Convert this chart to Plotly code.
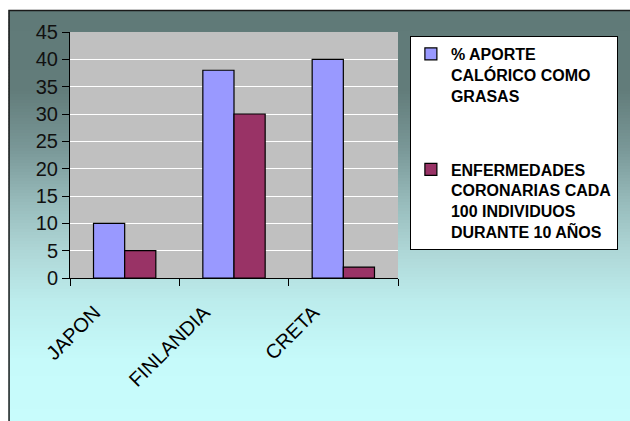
import plotly.graph_objects as go
import numpy as np

categories = ["JAPON", "FINLANDIA", "CRETA"]
grasas = [10, 38, 40]
coronarias = [5, 30, 2]
series_names = ["% APORTE<br>CALÓRICO COMO<br>GRASAS",
                "ENFERMEDADES<br>CORONARIAS CADA<br>100 INDIVIDUOS<br>DURANTE 10 AÑOS"]
y_ticks = [0, 5, 10, 15, 20, 25, 30, 35, 40, 45]

W, H = 630, 421
L, R, T, B = 70, 401, 32, 278
PW, PH = R - L, B - T

def xp(px):
    return (px - L) / PW

def yp(py):
    return (B - py) / PH

# background gradient stops (pixel y, rgb)
stops = [(10, (96, 122, 120)), (90, (98, 124, 122)), (150, (122, 152, 152)),
         (200, (150, 186, 186)), (250, (174, 214, 214)), (300, (188, 236, 236)),
         (360, (198, 250, 250)), (425, (200, 252, 252))]
sy = [s[0] for s in stops]
shapes = []
step = 3
for y0 in range(10, 425, step):
    ym = y0 + step / 2
    c = [int(round(np.interp(ym, sy, [s[1][k] for s in stops]))) for k in range(3)]
    shapes.append(dict(type="rect", xref="paper", yref="paper",
                       x0=xp(8), x1=xp(640), y0=yp(y0 + step + 0.5), y1=yp(y0),
                       fillcolor=f"rgb({c[0]},{c[1]},{c[2]})", line=dict(width=0),
                       layer="below"))
# frame border
shapes.append(dict(type="rect", xref="paper", yref="paper",
                   x0=xp(8.5), x1=xp(640), y0=yp(440), y1=yp(10.5),
                   fillcolor="rgba(0,0,0,0)", line=dict(color="#1a1a1a", width=1.5),
                   layer="below"))
# plot area
shapes.append(dict(type="rect", xref="paper", yref="paper",
                   x0=0, x1=1, y0=0, y1=1,
                   fillcolor="#c0c0c0", line=dict(width=0), layer="below"))

fig = go.Figure()
fig.add_trace(go.Bar(x=categories, y=grasas, name=series_names[0],
                     marker=dict(color="#9999ff", line=dict(color="#000000", width=1.2)),
                     legendgroup="a"))
fig.add_trace(go.Bar(x=categories, y=coronarias, name=series_names[1],
                     marker=dict(color="#993366", line=dict(color="#000000", width=1.2)),
                     legendgroup="b"))

fig.update_layout(
    width=W, height=H,
    margin=dict(l=L, r=W - R, t=T, b=H - B, pad=0),
    paper_bgcolor="white",
    plot_bgcolor="rgba(0,0,0,0)",
    barmode="group", bargap=0.43, bargroupgap=0,
    shapes=shapes,
    font=dict(family="Liberation Sans, Arial, sans-serif", color="#000000"),
    showlegend=True,
    legend=dict(x=xp(413), y=yp(36), xanchor="left", yanchor="top",
                bgcolor="white", bordercolor="#000000", borderwidth=1,
                font=dict(family="Liberation Sans, Arial, sans-serif",
                          size=16, color="#000000", weight="bold"),
                valign="top", tracegroupgap=50, traceorder="grouped"),
    xaxis=dict(range=[-0.5, 2.5], showline=True, linecolor="#000000", linewidth=1,
               ticks="outside", tickson="boundaries", ticklen=7, tickcolor="#000000",
               tickangle=-45, tickfont=dict(size=20, color="#000000"),
               ticklabelstandoff=14, ticklabelshift=-30,
               showgrid=False, zeroline=False, fixedrange=True),
    yaxis=dict(range=[0, 45], tickvals=y_ticks, showline=True, linecolor="#000000",
               linewidth=1, ticks="outside", ticklen=7, tickcolor="#000000",
               tickfont=dict(size=20, color="#111111"),
               showgrid=True, gridcolor="#ffffff", gridwidth=1,
               zeroline=False, fixedrange=True),
)

fig.write_html("out.html")
